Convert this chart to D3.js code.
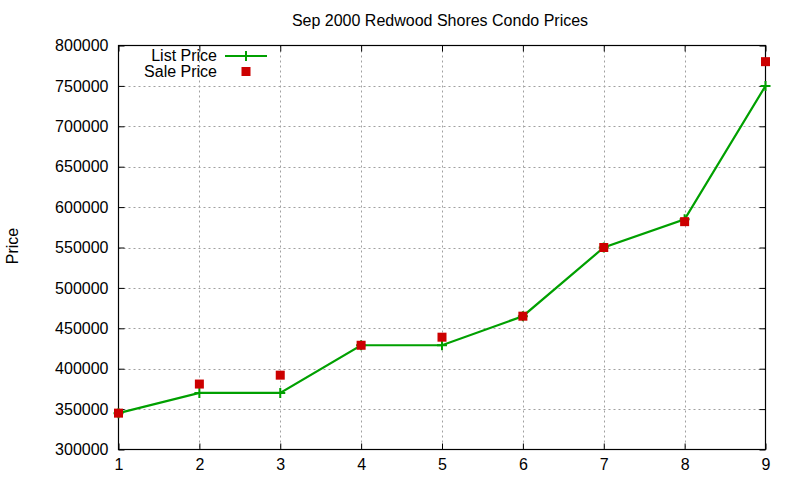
<!DOCTYPE html>
<html>
<head>
<meta charset="utf-8">
<script src="https://cdn.jsdelivr.net/npm/d3@7"></script>
<style>
  body { margin: 0; background: #fff; }
  text { font-family: "Liberation Sans", Arial, sans-serif; fill: #000; }
</style>
</head>
<body>
<svg id="chart" width="800" height="480"></svg>
<script>
// data
var houses = [1, 2, 3, 4, 5, 6, 7, 8, 9];
var listPrice = [345000, 370000, 370000, 429000, 429000, 465000, 550000, 585000, 750000];
var salePrice = [345000, 381000, 392000, 429000, 439000, 465000, 550000, 582000, 780000];
var yTicks = [300000, 350000, 400000, 450000, 500000, 550000, 600000, 650000, 700000, 750000, 800000];

var svg = d3.select('#chart');
var plotL = 118.5, plotR = 765.5, plotT = 45.5, plotB = 449.5;

var x = d3.scaleLinear().domain([1, 9]).range([plotL, plotR]);
var y = d3.scaleLinear().domain([300000, 800000]).range([plotB, plotT]);

// grid
var grid = svg.append('g').attr('stroke', '#a0a0a0').attr('stroke-width', 1).attr('stroke-dasharray', '2,3');
grid.selectAll('.gx').data(houses.slice(1, -1)).enter().append('line')
  .attr('x1', function(d) { return Math.round(x(d)) + 0.5; })
  .attr('x2', function(d) { return Math.round(x(d)) + 0.5; })
  .attr('y1', plotT).attr('y2', plotB);
grid.selectAll('.gy').data(yTicks.slice(1, -1)).enter().append('line')
  .attr('y1', function(d) { return Math.round(y(d)) + 0.5; })
  .attr('y2', function(d) { return Math.round(y(d)) + 0.5; })
  .attr('x1', plotL).attr('x2', plotR);

// axes (gnuplot style: ticks inside, mirrored)
var xAxis = d3.axisBottom(x).tickValues(houses).tickFormat(d3.format('d')).tickSizeInner(-6).tickSizeOuter(0).tickPadding(9);
var yAxis = d3.axisLeft(y).tickValues(yTicks).tickFormat(d3.format('d')).tickSizeInner(-6).tickSizeOuter(0).tickPadding(10);

var gx = svg.append('g').attr('transform', 'translate(0,' + plotB + ')').call(xAxis);
var gy = svg.append('g').attr('transform', 'translate(' + plotL + ',0)').call(yAxis);
var gx2 = svg.append('g').attr('transform', 'translate(0,' + plotT + ')').call(d3.axisTop(x).tickValues(houses).tickSizeInner(-6).tickSizeOuter(0).tickFormat(''));
var gy2 = svg.append('g').attr('transform', 'translate(' + plotR + ',0)').call(d3.axisRight(y).tickValues(yTicks).tickSizeInner(-6).tickSizeOuter(0).tickFormat(''));

[gx, gy, gx2, gy2].forEach(function(g) {
  g.select('.domain').remove();
  g.selectAll('line').attr('stroke', '#000');
  g.selectAll('text').attr('font-size', 16).attr('font-family', '"Liberation Sans", Arial, sans-serif').attr('fill', '#000');
});

svg.append('rect').attr('x', plotL).attr('y', plotT).attr('width', plotR - plotL).attr('height', plotB - plotT)
  .attr('fill', 'none').attr('stroke', '#000').attr('stroke-width', 1.2);

// list price line with + markers
var line = d3.line().x(function(d, i) { return x(houses[i]); }).y(function(d) { return y(d); });
svg.append('path').datum(listPrice).attr('d', line)
  .attr('fill', 'none').attr('stroke', '#00a000').attr('stroke-width', 2.2);

function plus(g, cx, cy) {
  g.append('path').attr('d', 'M' + (cx - 5) + ',' + cy + 'h10M' + cx + ',' + (cy - 5) + 'v10')
    .attr('stroke', '#00a000').attr('stroke-width', 2);
}
var marks = svg.append('g');
listPrice.forEach(function(d, i) { plus(marks, x(houses[i]), y(d)); });

// sale price squares
svg.append('g').selectAll('rect').data(salePrice).enter().append('rect')
  .attr('x', function(d, i) { return x(houses[i]) - 4.5; })
  .attr('y', function(d) { return y(d) - 4.5; })
  .attr('width', 9).attr('height', 9)
  .attr('fill', '#cc0000');

// title and labels
svg.append('text').attr('x', 440).attr('y', 26).attr('text-anchor', 'middle').attr('font-size', 16)
  .text('Sep 2000 Redwood Shores Condo Prices');
svg.append('text').attr('transform', 'translate(18,246) rotate(-90)').attr('text-anchor', 'middle').attr('font-size', 16)
  .text('Price');

// legend
var legend = svg.append('g');
legend.append('text').attr('x', 217).attr('y', 61).attr('text-anchor', 'end').attr('font-size', 16).text('List Price');
legend.append('line').attr('x1', 225).attr('x2', 267).attr('y1', 56).attr('y2', 56).attr('stroke', '#00a000').attr('stroke-width', 2.2);
plus(legend, 246, 56);
legend.append('text').attr('x', 217).attr('y', 77).attr('text-anchor', 'end').attr('font-size', 16).text('Sale Price');
legend.append('rect').attr('x', 241.5).attr('y', 67).attr('width', 9).attr('height', 9).attr('fill', '#cc0000');
</script>
</body>
</html>
